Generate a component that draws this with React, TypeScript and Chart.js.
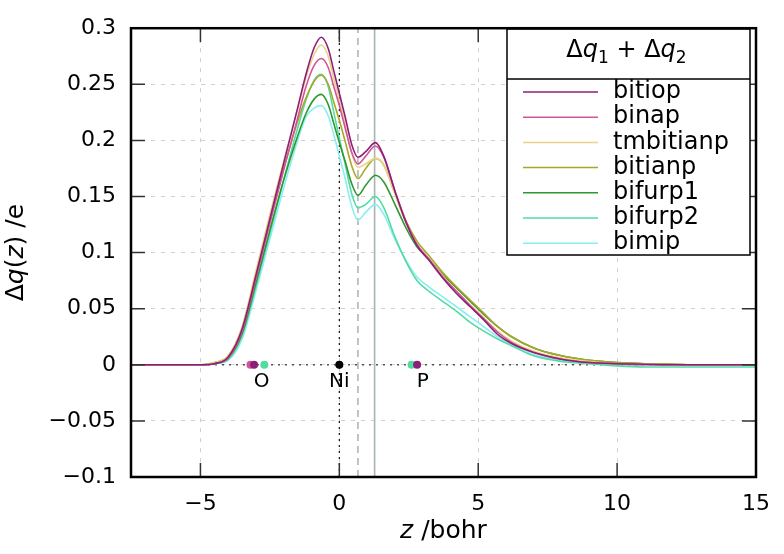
import { useEffect, useRef } from 'react';
import { Chart, registerables } from 'chart.js';

Chart.register(...registerables);

// ---- data ----
const Z = [-7.5, -6, -5, -4.5, -4, -3.5, -3, -2.5, -2, -1.5, -1.2, -0.9, -0.65, -0.4, -0.2, 0, 0.2, 0.45, 0.67, 0.95, 1.3, 1.6, 2, 2.4, 2.8, 3.2, 3.7, 4.2, 4.7, 5.2, 5.7, 6.2, 7, 8, 9, 10, 11, 12, 13, 15];

const BITIOP = [0, 0, 0, 0.001, 0.007, 0.032, 0.080, 0.130, 0.180, 0.229, 0.259, 0.283, 0.292, 0.282, 0.262, 0.242, 0.222, 0.196, 0.185, 0.190, 0.198, 0.186, 0.155, 0.127, 0.106, 0.094, 0.078, 0.064, 0.052, 0.040, 0.027, 0.019, 0.011, 0.005, 0.002, 0.001, 0.0005, 0, 0, 0];
const BINAP = [0, 0, 0, 0.001, 0.006, 0.030, 0.077, 0.126, 0.174, 0.220, 0.248, 0.267, 0.273, 0.265, 0.248, 0.231, 0.212, 0.189, 0.179, 0.186, 0.195, 0.185, 0.155, 0.128, 0.107, 0.095, 0.079, 0.066, 0.053, 0.041, 0.029, 0.020, 0.011, 0.005, 0.002, 0.001, 0, 0, 0, 0];
const TMBITIANP = [0, 0, 0, 0.002, 0.008, 0.034, 0.084, 0.134, 0.182, 0.228, 0.256, 0.277, 0.285, 0.275, 0.255, 0.236, 0.215, 0.188, 0.176, 0.179, 0.184, 0.178, 0.152, 0.126, 0.107, 0.095, 0.080, 0.066, 0.054, 0.042, 0.030, 0.021, 0.012, 0.006, 0.003, 0.001, 0.0005, 0, 0, 0];
const BITIANP = [0, 0, 0, 0.002, 0.008, 0.033, 0.081, 0.129, 0.175, 0.217, 0.238, 0.253, 0.258, 0.250, 0.234, 0.218, 0.200, 0.177, 0.166, 0.175, 0.184, 0.178, 0.153, 0.128, 0.110, 0.098, 0.083, 0.070, 0.058, 0.046, 0.034, 0.025, 0.015, 0.008, 0.004, 0.002, 0.001, 0.0005, 0, 0];
const BIFURP1 = [0, 0, 0, 0.001, 0.006, 0.028, 0.073, 0.120, 0.165, 0.204, 0.224, 0.237, 0.241, 0.232, 0.215, 0.198, 0.182, 0.161, 0.151, 0.160, 0.169, 0.163, 0.143, 0.122, 0.105, 0.095, 0.081, 0.069, 0.057, 0.045, 0.034, 0.025, 0.015, 0.008, 0.004, 0.002, 0.001, 0.0005, 0, 0];
const BIFURP2 = [0, 0, 0, 0.001, 0.005, 0.026, 0.070, 0.117, 0.165, 0.211, 0.236, 0.254, 0.259, 0.248, 0.225, 0.202, 0.180, 0.152, 0.140, 0.143, 0.150, 0.140, 0.114, 0.092, 0.075, 0.066, 0.057, 0.048, 0.038, 0.030, 0.023, 0.017, 0.008, 0.003, 0.001, -0.001, -0.002, -0.002, -0.002, -0.002];
const BIMIP = [0, 0, 0, 0.001, 0.004, 0.023, 0.066, 0.112, 0.158, 0.200, 0.221, 0.229, 0.231, 0.222, 0.205, 0.186, 0.167, 0.141, 0.129, 0.136, 0.143, 0.134, 0.112, 0.093, 0.078, 0.070, 0.061, 0.052, 0.043, 0.034, 0.025, 0.018, 0.009, 0.004, 0.001, 0, 0, 0, 0, 0];

const SERIES_NAMES = ['bitiop', 'binap', 'tmbitianp', 'bitianp', 'bifurp1', 'bifurp2', 'bimip'];
const SERIES_VALUES = [BITIOP, BINAP, TMBITIANP, BITIANP, BIFURP1, BIFURP2, BIMIP];
const SERIES_COLORS = ['#8e1f78', '#d4549c', '#e8d488', '#a8a828', '#2f972f', '#52dca4', '#88eef2'];

const X_TICKS = [-5, 0, 5, 10, 15];
const X_TICK_LABELS = ['\u22125', '0', '5', '10', '15'];
const Y_TICKS = [-0.1, -0.05, 0, 0.05, 0.1, 0.15, 0.2, 0.25, 0.3];
const Y_TICK_LABELS = ['\u22120.1', '\u22120.05', '0', '0.05', '0.1', '0.15', '0.2', '0.25', '0.3'];

const X_MIN = -7.5, X_MAX = 15, Y_MIN = -0.1, Y_MAX = 0.3;

const ATOM_Z = [-3.2, -3.07, -2.7, 0, 2.6, 2.8];
const ATOM_COLORS = ['#d4549c', '#8e1f78', '#52dca4', '#000000', '#52dca4', '#8e1f78'];
const ATOM_LABELS = ['O', 'Ni', 'P'];
const ATOM_LABEL_Z = [-2.8, 0, 3.0];

const NI_LINE_Z = 0;
const DASHED_LINE_Z = 0.67;
const SOLID_LINE_Z = 1.27;

const FONT = "'DejaVu Sans', sans-serif";

type Piece = { t: string; italic?: boolean; sub?: boolean };

function drawPieces(ctx: CanvasRenderingContext2D, pieces: Piece[], size: number, cx: number, cy: number) {
  const fontFor = (p: Piece) => `${p.italic ? 'italic ' : ''}${p.sub ? Math.round(size * 0.7) : size}px ${FONT}`;
  let total = 0;
  const widths = pieces.map((p) => {
    ctx.font = fontFor(p);
    const w = ctx.measureText(p.t).width;
    total += w;
    return w;
  });
  let x = cx - total / 2;
  ctx.textBaseline = 'middle';
  ctx.textAlign = 'left';
  pieces.forEach((p, i) => {
    ctx.font = fontFor(p);
    ctx.fillText(p.t, x, cy + (p.sub ? size * 0.3 : 0));
    x += widths[i];
  });
}

const decorPlugin = {
  id: 'decor',
  afterDraw(chart: any) {
    const ctx: CanvasRenderingContext2D = chart.ctx;
    const { left, right, top, bottom } = chart.chartArea;
    const xs = chart.scales.x;
    const ys = chart.scales.y;
    ctx.save();

    // inward tick marks on all four sides
    ctx.strokeStyle = '#333';
    ctx.lineWidth = 1.5;
    const tl = 14;
    ctx.beginPath();
    X_TICKS.forEach((v) => {
      const px = xs.getPixelForValue(v);
      ctx.moveTo(px, bottom); ctx.lineTo(px, bottom - tl);
      ctx.moveTo(px, top); ctx.lineTo(px, top + tl);
    });
    Y_TICKS.forEach((v) => {
      const py = ys.getPixelForValue(v);
      ctx.moveTo(left, py); ctx.lineTo(left + tl, py);
      ctx.moveTo(right, py); ctx.lineTo(right - tl, py);
    });
    ctx.stroke();

    // atom labels
    ctx.fillStyle = '#000';
    ctx.font = `20px ${FONT}`;
    ctx.textAlign = 'center';
    ctx.textBaseline = 'middle';
    const y0 = ys.getPixelForValue(0);
    ATOM_LABELS.forEach((t, i) => {
      ctx.fillText(t, xs.getPixelForValue(ATOM_LABEL_Z[i]), y0 + 17);
    });

    // legend box
    const lx = 507, ly = 29, lw = 243, lh = 226, th = 50, rowH = 25.2;
    ctx.fillStyle = '#fff';
    ctx.fillRect(lx, ly, lw, lh);
    ctx.strokeStyle = '#000';
    ctx.lineWidth = 1.5;
    ctx.strokeRect(lx, ly, lw, lh);
    ctx.beginPath();
    ctx.moveTo(lx, ly + th); ctx.lineTo(lx + lw, ly + th);
    ctx.stroke();
    ctx.fillStyle = '#000';
    drawPieces(ctx, [
      { t: '\u0394' }, { t: 'q', italic: true }, { t: '1', sub: true },
      { t: ' + \u0394' }, { t: 'q', italic: true }, { t: '2', sub: true },
    ], 24, lx + lw / 2 - 2, ly + th / 2 - 3);
    SERIES_NAMES.forEach((name, i) => {
      const ry = ly + th + 13 + i * rowH;
      ctx.strokeStyle = SERIES_COLORS[i];
      ctx.lineWidth = 1.5;
      ctx.beginPath();
      ctx.moveTo(523, ry); ctx.lineTo(598, ry);
      ctx.stroke();
      ctx.fillStyle = '#000';
      ctx.font = `24px ${FONT}`;
      ctx.textAlign = 'left';
      ctx.textBaseline = 'middle';
      ctx.fillText(name, 613, ry);
    });

    // frame
    ctx.strokeStyle = '#000';
    ctx.lineWidth = 2.5;
    ctx.strokeRect(left, top, right - left, bottom - top);

    // axis titles
    ctx.fillStyle = '#000';
    drawPieces(ctx, [{ t: 'z', italic: true }, { t: ' /bohr' }], 25, (left + right) / 2, 531);
    ctx.translate(16, (top + bottom) / 2);
    ctx.rotate(-Math.PI / 2);
    drawPieces(ctx, [{ t: '\u0394' }, { t: 'q', italic: true }, { t: '(' }, { t: 'z', italic: true }, { t: ') /e' }], 25, 0, 0);

    ctx.restore();
  },
};

export default function App() {
  const ref = useRef<HTMLCanvasElement>(null);
  useEffect(() => {
    document.body.style.margin = '0';
    const canvas = ref.current!;
    const curveSets = SERIES_NAMES.map((name, i) => ({
      label: name,
      data: Z.map((z, j) => ({ x: z, y: SERIES_VALUES[i][j] })),
      borderColor: SERIES_COLORS[i],
      borderWidth: 1.6,
      pointRadius: 0,
      cubicInterpolationMode: 'monotone' as const,
      fill: false,
      order: i,
    }));
    const markerSet = {
      label: 'atoms',
      data: ATOM_Z.map((z) => ({ x: z, y: 0 })),
      showLine: false,
      pointRadius: 4,
      pointBorderWidth: 0,
      pointBackgroundColor: ATOM_COLORS,
      pointBorderColor: ATOM_COLORS,
      order: -1,
    };
    const vline = (z: number, color: string, dash: number[], width: number, order: number) => ({
      label: 'v' + z,
      data: [{ x: z, y: Y_MIN }, { x: z, y: Y_MAX }],
      borderColor: color,
      borderDash: dash,
      borderWidth: width,
      pointRadius: 0,
      order,
    });
    const zeroLine = {
      label: 'zero',
      data: [{ x: X_MIN, y: 0 }, { x: X_MAX, y: 0 }],
      borderColor: '#555',
      borderDash: [2, 5],
      borderWidth: 1.5,
      pointRadius: 0,
      order: 20,
    };
    const chart = new Chart(canvas, {
      type: 'line',
      data: {
        datasets: [
          markerSet,
          ...curveSets,
          vline(NI_LINE_Z, '#111', [2, 4], 1.2, 21),
          vline(DASHED_LINE_Z, '#b4b4b4', [7, 5], 1.6, 22),
          vline(SOLID_LINE_Z, '#a9b3b3', [], 1.6, 23),
          zeroLine,
        ] as any,
      },
      options: {
        responsive: false,
        animation: false,
        devicePixelRatio: 1,
        parsing: true,
        layout: { padding: { left: 0, right: 16, top: 13, bottom: 0 } },
        plugins: { legend: { display: false }, tooltip: { enabled: false } },
        scales: {
          x: {
            type: 'linear',
            min: X_MIN,
            max: X_MAX,
            afterBuildTicks: (s: any) => { s.ticks = X_TICKS.map((v) => ({ value: v })); },
            afterFit: (s: any) => { s.height = 77; },
            ticks: {
              color: '#000',
              font: { family: FONT, size: 22 },
              padding: 14,
              maxRotation: 0,
              autoSkip: false,
              callback: (v: any) => X_TICK_LABELS[X_TICKS.indexOf(Number(v))] ?? '',
            },
            grid: { color: '#cfcfcf', lineWidth: 1, drawTicks: false },
            border: { display: false, dash: [4, 6] },
          },
          y: {
            type: 'linear',
            min: Y_MIN,
            max: Y_MAX,
            afterBuildTicks: (s: any) => { s.ticks = Y_TICKS.map((v) => ({ value: v })); },
            afterFit: (s: any) => { s.width = 131; },
            ticks: {
              color: '#000',
              font: { family: FONT, size: 22 },
              padding: 15,
              autoSkip: false,
              callback: (v: any) => {
                const idx = Y_TICKS.findIndex((t) => Math.abs(t - Number(v)) < 1e-9);
                return idx >= 0 ? Y_TICK_LABELS[idx] : '';
              },
            },
            grid: { color: '#cfcfcf', lineWidth: 1, drawTicks: false },
            border: { display: false, dash: [4, 6] },
          },
        },
      } as any,
      plugins: [decorPlugin],
    });
    return () => chart.destroy();
  }, []);
  return (
    <div style={{ position: 'absolute', left: 0, top: 0, width: 784, height: 554 }}>
      <canvas ref={ref} width={784} height={554} style={{ width: 784, height: 554, display: 'block' }} />
    </div>
  );
}
